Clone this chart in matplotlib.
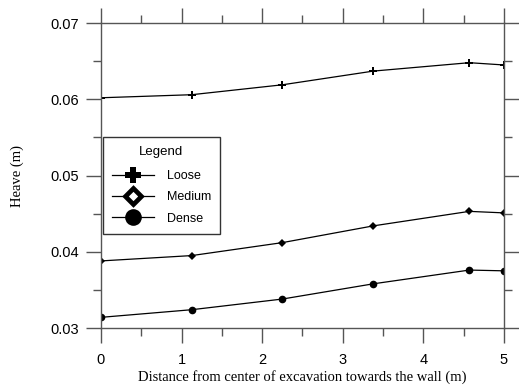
import matplotlib
matplotlib.use('Agg')
import matplotlib.pyplot as plt
from matplotlib.lines import Line2D
from matplotlib.ticker import MultipleLocator

# distance from center of excavation (m)
dist = [0.0, 1.125, 2.25, 3.38, 4.57, 5.0]

heave_loose = [0.0602, 0.0606, 0.0619, 0.0637, 0.0648, 0.0645]
heave_medium = [0.0388, 0.0395, 0.0412, 0.0434, 0.0453, 0.0451]
heave_dense = [0.0314, 0.0324, 0.0338, 0.0358, 0.0376, 0.0375]

labels = ['Loose', 'Medium', 'Dense']

fig = plt.figure(figsize=(5.19, 3.88), dpi=100)
ax = fig.add_axes([0.1946, 0.1546, 0.7765, 0.786])

ax.plot(dist, heave_loose, color='black', lw=0.9, marker='P', ms=6, mew=0)
ax.plot(dist, heave_medium, color='black', lw=0.9, marker='D', ms=3.8, mew=0)
ax.plot(dist, heave_dense, color='black', lw=0.9, marker='o', ms=5.5, mew=0)

ax.set_xlim(0, 5)
ax.set_ylim(0.03, 0.07)
ax.xaxis.set_major_locator(MultipleLocator(1))
ax.xaxis.set_minor_locator(MultipleLocator(0.5))
ax.yaxis.set_major_locator(MultipleLocator(0.01))
ax.yaxis.set_minor_locator(MultipleLocator(0.005))
ax.yaxis.set_major_formatter(plt.FuncFormatter(lambda v, p: f'{v:.2f}'))

for s in ax.spines.values():
    s.set_color('#555555')
    s.set_linewidth(1.0)
ax.tick_params(which='both', direction='out', top=True, right=True,
               color='#555555', width=1.0)
ax.tick_params(which='major', length=11)
ax.tick_params(which='minor', length=6)
ax.tick_params(labelsize=10.5)
ax.tick_params(axis='x', pad=7)
ax.tick_params(axis='y', pad=5)
for t in ax.get_xticklabels() + ax.get_yticklabels():
    t.set_family('Liberation Sans')

ax.set_xlabel('Distance from center of excavation towards the wall (m)',
              family='Liberation Serif', fontsize=10.5, labelpad=2)
ax.set_ylabel('Heave (m)', family='Liberation Serif', fontsize=10.5, labelpad=19)

handles = [
    Line2D([], [], color='black', lw=0.9, marker='P', ms=12, mew=0),
    Line2D([], [], color='black', lw=0.9, marker='D', ms=8.5, mfc='white',
           mec='black', mew=3.4),
    Line2D([], [], color='black', lw=0.9, marker='o', ms=12, mew=0),
]
leg = ax.legend(handles, labels, title='Legend', loc='upper left',
                bbox_to_anchor=(0.005, 0.627), borderaxespad=0,
                fancybox=False, edgecolor='#333333', framealpha=1,
                handlelength=3.4, handletextpad=1.0, borderpad=0.7,
                labelspacing=0.75,
                prop={'family': 'Liberation Sans', 'size': 9},
                title_fontproperties={'family': 'Liberation Sans', 'size': 9.5})
leg.get_frame().set_linewidth(1.0)
leg._legend_box.sep = 9

fig.savefig('out.png', dpi=100)
